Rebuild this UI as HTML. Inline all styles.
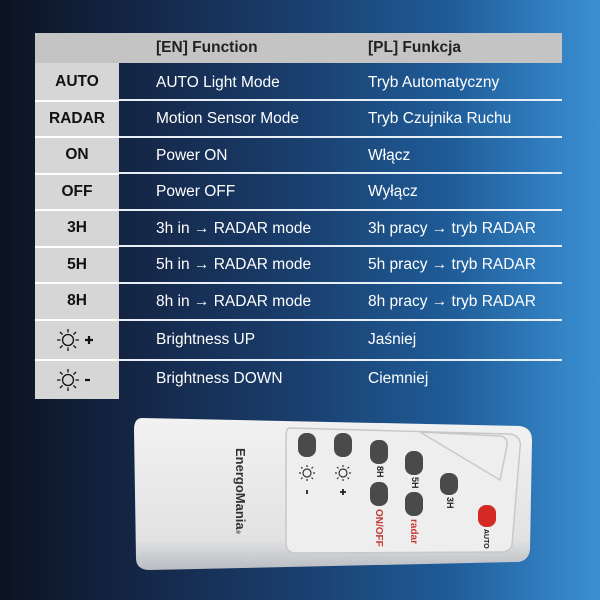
<!DOCTYPE html>
<html><head><meta charset="utf-8"><style>
body{margin:0;width:600px;height:600px;overflow:hidden;font-family:"Liberation Sans",sans-serif;}
#bg{position:absolute;left:0;top:0;width:600px;height:600px;background:linear-gradient(90deg,#0c1322 0%,#15284a 25%,#1a3f6e 50%,#1f5c98 75%,#3b90d4 100%);}
.hdr{position:absolute;left:35px;top:33px;width:527px;height:30px;background:#c4c4c4;}
.l{position:absolute;left:35px;width:84px;background:#d6d6d6;color:#111;font-weight:bold;font-size:15.5px;display:flex;align-items:center;justify-content:center;}
.t{position:absolute;color:#fff;font-size:15.5px;}
.h{position:absolute;color:#222;font-weight:bold;font-size:15.5px;top:39px;}
.ln{position:absolute;left:119px;width:443px;height:2px;background:#e8eef5;}
.ll{position:absolute;left:35px;width:84px;height:2px;background:#fff;}
</style></head><body>
<div id="bg"></div>
<div class="hdr"></div>
<div class="h" style="left:156px">[EN] Function</div>
<div class="h" style="left:368px">[PL] Funkcja</div>

<div class="l" style="top:63px;height:37px">AUTO</div>
<div class="l" style="top:101px;height:35px">RADAR</div>
<div class="l" style="top:137px;height:36px">ON</div>
<div class="l" style="top:174px;height:35px">OFF</div>
<div class="l" style="top:210px;height:36px">3H</div>
<div class="l" style="top:247px;height:35px">5H</div>
<div class="l" style="top:283px;height:36px">8H</div>
<div class="l" style="top:320px;height:39px">
<svg width="44" height="26" viewBox="0 0 44 26"><g stroke="#111" stroke-width="1.3" fill="none"><circle cx="13" cy="13" r="5.5"/><path d="M13 2v3.5M13 20.5v3.5M2 13h3.5M20.5 13h3.5M5 5l2.5 2.5M18.5 18.5l2.5 2.5M21 5l-2.5 2.5M5 21l2.5-2.5"/></g><path d="M30 13h8M34 9v8" stroke="#111" stroke-width="2.2"/></svg></div>
<div class="l" style="top:360px;height:39px">
<svg width="44" height="26" viewBox="0 0 44 26"><g stroke="#111" stroke-width="1.3" fill="none"><circle cx="13" cy="13" r="5.5"/><path d="M13 2v3.5M13 20.5v3.5M2 13h3.5M20.5 13h3.5M5 5l2.5 2.5M18.5 18.5l2.5 2.5M21 5l-2.5 2.5M5 21l2.5-2.5"/></g><path d="M30 13h5" stroke="#111" stroke-width="2.2"/></svg></div>

<div class="ln" style="top:99px"></div><div class="ll" style="top:100px"></div>
<div class="ln" style="top:136px"></div><div class="ll" style="top:136px"></div>
<div class="ln" style="top:172px"></div><div class="ll" style="top:173px"></div>
<div class="ln" style="top:209px"></div><div class="ll" style="top:209px"></div>
<div class="ln" style="top:245px"></div><div class="ll" style="top:246px"></div>
<div class="ln" style="top:282px"></div><div class="ll" style="top:282px"></div>
<div class="ln" style="top:319px"></div><div class="ll" style="top:319px"></div>
<div class="ln" style="top:359px"></div><div class="ll" style="top:359px"></div>

<div class="t" style="left:156px;top:74px">AUTO Light Mode</div><div class="t" style="left:368px;top:74px">Tryb Automatyczny</div>
<div class="t" style="left:156px;top:110px">Motion Sensor Mode</div><div class="t" style="left:368px;top:110px">Tryb Czujnika Ruchu</div>
<div class="t" style="left:156px;top:147px">Power ON</div><div class="t" style="left:368px;top:147px">Włącz</div>
<div class="t" style="left:156px;top:183px">Power OFF</div><div class="t" style="left:368px;top:183px">Wyłącz</div>
<div class="t" style="left:156px;top:220px">3h in → RADAR mode</div><div class="t" style="left:368px;top:220px">3h pracy → tryb RADAR</div>
<div class="t" style="left:156px;top:256px">5h in → RADAR mode</div><div class="t" style="left:368px;top:256px">5h pracy → tryb RADAR</div>
<div class="t" style="left:156px;top:293px">8h in → RADAR mode</div><div class="t" style="left:368px;top:293px">8h pracy → tryb RADAR</div>
<div class="t" style="left:156px;top:331px">Brightness UP</div><div class="t" style="left:368px;top:331px">Jaśniej</div>
<div class="t" style="left:156px;top:370px">Brightness DOWN</div><div class="t" style="left:368px;top:370px">Ciemniej</div>

<svg style="position:absolute;left:0;top:0" width="600" height="600">
<defs><linearGradient id="rg" x1="0" y1="0" x2="0" y2="1"><stop offset="0" stop-color="#f2f2f2"/><stop offset="0.8" stop-color="#e2e2e2"/><stop offset="1" stop-color="#b8bcc2"/></linearGradient></defs>
<path d="M142 418 L520 426 Q532 428 532 440 L530 550 Q528 562 516 562 L150 570 Q136 570 136 558 L134 430 Q134 418 142 418Z" fill="url(#rg)"/>
<path d="M290 428 L510 434 Q522 436 520 448 L512 545 Q510 552 500 552 L296 553 Q286 553 286 543 L286 436 Q286 428 290 428Z" fill="#eeeeee" stroke="#c8c8c8" stroke-width="1.5"/>
<path d="M420 432 L500 436 Q508 437 507 446 L500 480 Z" fill="none" stroke="#c8c8c8" stroke-width="1.5"/>
<g fill="#4a4a4a">
<rect x="298" y="433" width="18" height="24" rx="8"/>
<rect x="334" y="433" width="18" height="24" rx="8"/>
<rect x="370" y="440" width="18" height="24" rx="8"/>
<rect x="405" y="451" width="18" height="24" rx="8"/>
<rect x="440" y="473" width="18" height="22" rx="8"/>
<rect x="370" y="482" width="18" height="24" rx="8"/>
<rect x="405" y="492" width="18" height="24" rx="8"/>
</g>
<rect x="478" y="505" width="18" height="22" rx="8" fill="#d42a24"/>
<text transform="translate(236,448) rotate(90)" font-size="13" font-weight="bold" fill="#333">EnergoMania<tspan font-size="6">®</tspan></text>
<g font-size="9" font-weight="bold" fill="#222">
<text transform="translate(377,466) rotate(90)">8H</text>
<text transform="translate(412,477) rotate(90)">5H</text>
<text transform="translate(447,497) rotate(90)">3H</text>
<text transform="translate(484,529) rotate(90)" font-size="7">AUTO</text>
</g>
<g font-size="10" font-weight="bold" fill="#c43a34">
<text transform="translate(376,509) rotate(90)">ON/OFF</text>
<text transform="translate(411,519) rotate(90)">radar</text>
</g>
<g stroke="#333" stroke-width="1.2" fill="none">
<circle cx="307" cy="473" r="4"/><path d="M307 465v2M307 479v2M299 473h2M313 473h2M301 467l1.5 1.5M313 479l-1.5-1.5M313 467l-1.5 1.5M301 479l1.5-1.5"/>
<circle cx="343" cy="473" r="4"/><path d="M343 465v2M343 479v2M335 473h2M349 473h2M337 467l1.5 1.5M349 479l-1.5-1.5M349 467l-1.5 1.5M337 479l1.5-1.5"/>
</g>
<path d="M307 490v4M340 492h6M343 489v6" stroke="#222" stroke-width="1.8"/>
</svg>
</body></html>
